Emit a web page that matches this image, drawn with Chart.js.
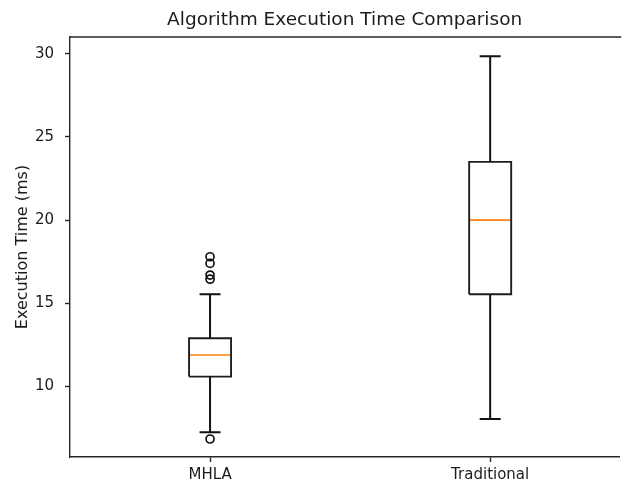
<!DOCTYPE html>
<html>
<head>
<meta charset="utf-8">
<script src="https://cdn.jsdelivr.net/npm/chart.js@4.4.1/dist/chart.umd.min.js"></script>
<style>
html, body { margin: 0; padding: 0; overflow: hidden; background: #fff; }
</style>
</head>
<body>
<canvas id="c" width="625" height="483"></canvas>
<script>
// ---- data ----
const categories = ['MHLA', 'Traditional'];
const whiskerLow = [7.25, 8.05];
const q1 = [10.6, 15.55];
const medians = [11.9, 20.0];
const q3 = [12.9, 23.5];
const whiskerHigh = [15.55, 29.85];
const outliers = [[6.85, 16.45, 16.7, 17.4, 17.8], []];
const yTicks = [10, 15, 20, 25, 30];

// ---- geometry in data units (matplotlib defaults) ----
const positions = categories.map((_, i) => i + 1);
const halfBox = 0.075;
const halfCap = 0.0375;

const boxPts = [], medPts = [], whiskPts = [], capPts = [], outPts = [];
positions.forEach((p, i) => {
  boxPts.push({x: p - halfBox, y: q1[i]}, {x: p + halfBox, y: q1[i]}, {x: p + halfBox, y: q3[i]},
              {x: p - halfBox, y: q3[i]}, {x: p - halfBox, y: q1[i]}, {x: p, y: null});
  medPts.push({x: p - halfBox, y: medians[i]}, {x: p + halfBox, y: medians[i]}, {x: p, y: null});
  whiskPts.push({x: p, y: q1[i]}, {x: p, y: whiskerLow[i]}, {x: p, y: null},
                {x: p, y: q3[i]}, {x: p, y: whiskerHigh[i]}, {x: p, y: null});
  capPts.push({x: p - halfCap, y: whiskerLow[i]}, {x: p + halfCap, y: whiskerLow[i]}, {x: p, y: null},
              {x: p - halfCap, y: whiskerHigh[i]}, {x: p + halfCap, y: whiskerHigh[i]}, {x: p, y: null});
  outliers[i].forEach(v => outPts.push({x: p, y: v}));
});

const lineDs = (data, color, width) => ({
  type: 'scatter', data, showLine: true, spanGaps: false, borderColor: color, borderWidth: width,
  pointRadius: 0, pointHoverRadius: 0, fill: false
});

// top spine (the right spine lies outside the cropped picture)
const frame = {
  id: 'frame',
  afterDraw(chart) {
    const a = chart.chartArea, ctx = chart.ctx;
    ctx.save();
    ctx.strokeStyle = '#262626';
    ctx.lineWidth = 1.4;
    ctx.beginPath();
    ctx.moveTo(a.left, a.top);
    ctx.lineTo(a.right + 2, a.top);
    ctx.stroke();
    ctx.restore();
  }
};

const font = 'DejaVu Sans';
const txt = '#1c1c1c';
new Chart(document.getElementById('c'), {
  type: 'scatter',
  data: {
    datasets: [
      lineDs(whiskPts, '#111', 2),
      lineDs(capPts, '#111', 2),
      lineDs(boxPts, '#1e1e1e', 1.9),
      lineDs(medPts, '#ff7f0e', 1.6),
      { type: 'scatter', data: outPts, pointStyle: 'circle', pointRadius: 4, pointBorderWidth: 1.7,
        pointBorderColor: '#111', pointBackgroundColor: 'rgba(0,0,0,0)', showLine: false }
    ]
  },
  options: {
    responsive: false,
    animation: false,
    devicePixelRatio: 1,
    layout: { padding: { left: 0, right: 0, top: 0, bottom: 0 } },
    plugins: {
      legend: { display: false },
      tooltip: { enabled: false },
      title: {
        display: true, fullSize: false, text: 'Algorithm Execution Time Comparison', color: txt,
        font: { family: font, size: 18.5, weight: 'normal' }, padding: { top: 9, bottom: 5.8 }
      }
    },
    scales: {
      x: {
        type: 'linear', min: 0.5, max: 2.461,
        afterBuildTicks: s => { s.ticks = positions.map(v => ({ value: v })); },
        afterFit: s => { s.height = 26; },
        ticks: { callback: v => categories[positions.indexOf(v)] ?? '', color: txt,
                 font: { family: font, size: 15 }, padding: 4, maxRotation: 0, autoSkip: false },
        grid: { drawOnChartArea: false, drawTicks: true, tickLength: 5, tickColor: '#262626', tickWidth: 1.4 },
        border: { display: true, color: '#262626', width: 1.4 }
      },
      y: {
        type: 'linear', min: 5.77, max: 31.0,
        afterBuildTicks: s => { s.ticks = yTicks.map(v => ({ value: v })); },
        afterFit: s => { s.width = 70; },
        ticks: { color: txt, font: { family: font, size: 15 }, padding: 11 },
        title: { display: true, text: 'Execution Time (ms)', color: txt,
                 font: { family: font, size: 16 }, padding: { top: 13, bottom: 0 } },
        grid: { drawOnChartArea: false, drawTicks: true, tickLength: 5, tickColor: '#262626', tickWidth: 1.4 },
        border: { display: true, color: '#262626', width: 1.4 }
      }
    }
  },
  plugins: [frame]
});
</script>
</body>
</html>
